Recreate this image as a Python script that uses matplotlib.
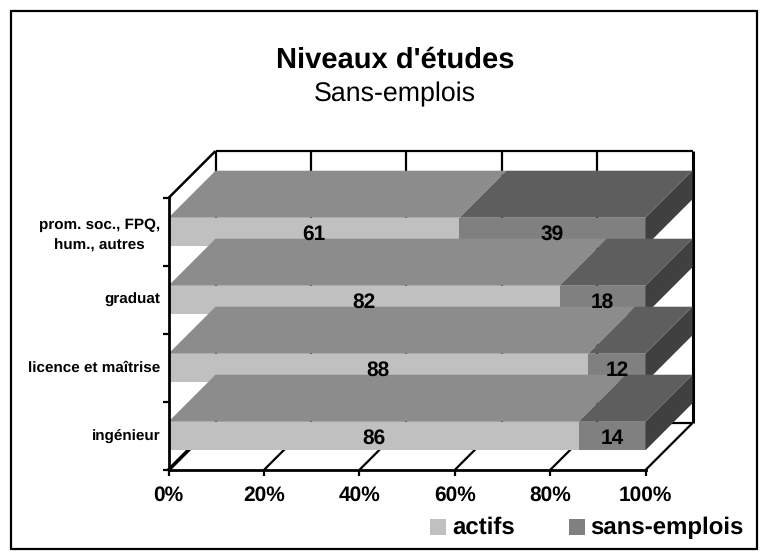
import matplotlib
matplotlib.use("Agg")
import matplotlib.pyplot as plt
from matplotlib.patches import Polygon, Rectangle

plt.rcParams['font.family'] = ['Liberation Sans', 'DejaVu Sans']
plt.rcParams['text.hinting'] = 'none'

categories = ["ingénieur", "licence et maîtrise", "graduat", "prom. soc., FPQ,\nhum., autres"]
actifs = [86, 88, 82, 61]
sans_emplois = [14, 12, 18, 39]
x_ticks = [0, 20, 40, 60, 80, 100]
series_names = ["actifs", "sans-emplois"]

W, H = 768, 560
L, R, T, B = 168.5, 645.5, 198.0, 470.0
DXP, DYP = 47.0, 47.0
fig = plt.figure(figsize=(W/100, H/100), dpi=100, facecolor='white')
fig.add_artist(Rectangle((10.5/W, 1-549/H), 746.5/W, 538/H, transform=fig.transFigure,
                         fill=False, ec='black', lw=1.6))
ax = fig.add_axes([L/W, 1-B/H, (R-L)/W, (B-T)/H])
ax.set_xlim(0, 100)
ax.set_ylim(0, len(categories))
ax.patch.set_alpha(0)
DX = DXP/(R-L)*100
DY = DYP/(B-T)*len(categories)

for s in ('top', 'right'):
    ax.spines[s].set_visible(False)
for s in ('left', 'bottom'):
    ax.spines[s].set_linewidth(2)
    ax.spines[s].set_zorder(9)

ax.set_xticks(x_ticks)
ax.set_xticklabels([f"{v}%" for v in x_ticks], fontsize=15, fontweight='bold')
ax.set_yticks(range(len(categories)+1))
ax.set_yticklabels([])
ax.tick_params(axis='x', length=4.5, width=1.6, pad=7)
ax.tick_params(axis='y', length=4.5, width=1.6)
for i, c in enumerate(categories):
    ax.annotate(c, (0, i+0.5), xytext=(-6, 1), textcoords='offset points', ha='right',
                va='center_baseline', ma='center', fontsize=11, fontweight='bold', linespacing=1.65)

kw = dict(clip_on=False, color='black', solid_capstyle='butt')
# back wall grid and floor
for v in x_ticks:
    ax.plot([v+DX, v+DX], [DY, 4+DY], lw=1.6 if v < 100 else 2.2, zorder=1, **kw)
    ax.plot([v, v+DX], [0, DY], lw=1.6, zorder=1, **kw)
ax.plot([0, DX], [0, DY], lw=2.6, zorder=1.5, **kw)
ax.plot([0, DX], [4, 4+DY], lw=1.8, zorder=1, **kw)
ax.plot([DX, 100+DX], [4+DY, 4+DY], lw=1.6, zorder=1, **kw)
ax.plot([DX, 100+DX], [DY, DY], lw=1.6, zorder=1, **kw)

FRONT = ['#c0c0c0', '#808080']
TOP = ['#8c8c8c', '#5e5e5e']
SIDE = '#404040'
HB = 0.21
for i, (a, s) in enumerate(zip(actifs, sans_emplois)):
    y0, y1 = i+0.5-HB, i+0.5+HB
    z = 2 + (len(categories)-i)
    for k, (start, width) in enumerate([(0, a), (a, s)]):
        end = start+width
        ax.add_patch(Polygon([(start, y1), (end, y1), (end+DX, y1+DY), (start+DX, y1+DY)],
                             closed=True, fc=TOP[k], ec='none', clip_on=False, zorder=z))
        ax.add_patch(Rectangle((start, y0), width, y1-y0, fc=FRONT[k], ec='none',
                               clip_on=False, zorder=z))
        ax.text(start+width/2, i+0.5, str(width), ha='center', va='center_baseline',
                fontsize=15, fontweight='bold', zorder=z+1)
    ax.add_patch(Polygon([(100, y0), (100, y1), (100+DX, y1+DY), (100+DX, y0+DY)],
                         closed=True, fc=SIDE, ec='none', clip_on=False, zorder=z))

fig.text(395/W, 1-68/H, "Niveaux d'études", ha='center', va='baseline', fontsize=21, fontweight='bold')
fig.text(395/W, 1-101/H, "Sans-emplois", ha='center', va='baseline', fontsize=19.3)

# legend
for px, col, name, tx in [(430, FRONT[0], series_names[0], 452), (569, FRONT[1], series_names[1], 590)]:
    fig.add_artist(Rectangle((px/W, 1-535/H), 16/W, 16/H, transform=fig.transFigure, fc=col, ec='none'))
    fig.text(tx/W, 1-534/H, name, ha='left', va='baseline', fontsize=17.3, fontweight='bold')

fig.savefig("out.png", dpi=100)
